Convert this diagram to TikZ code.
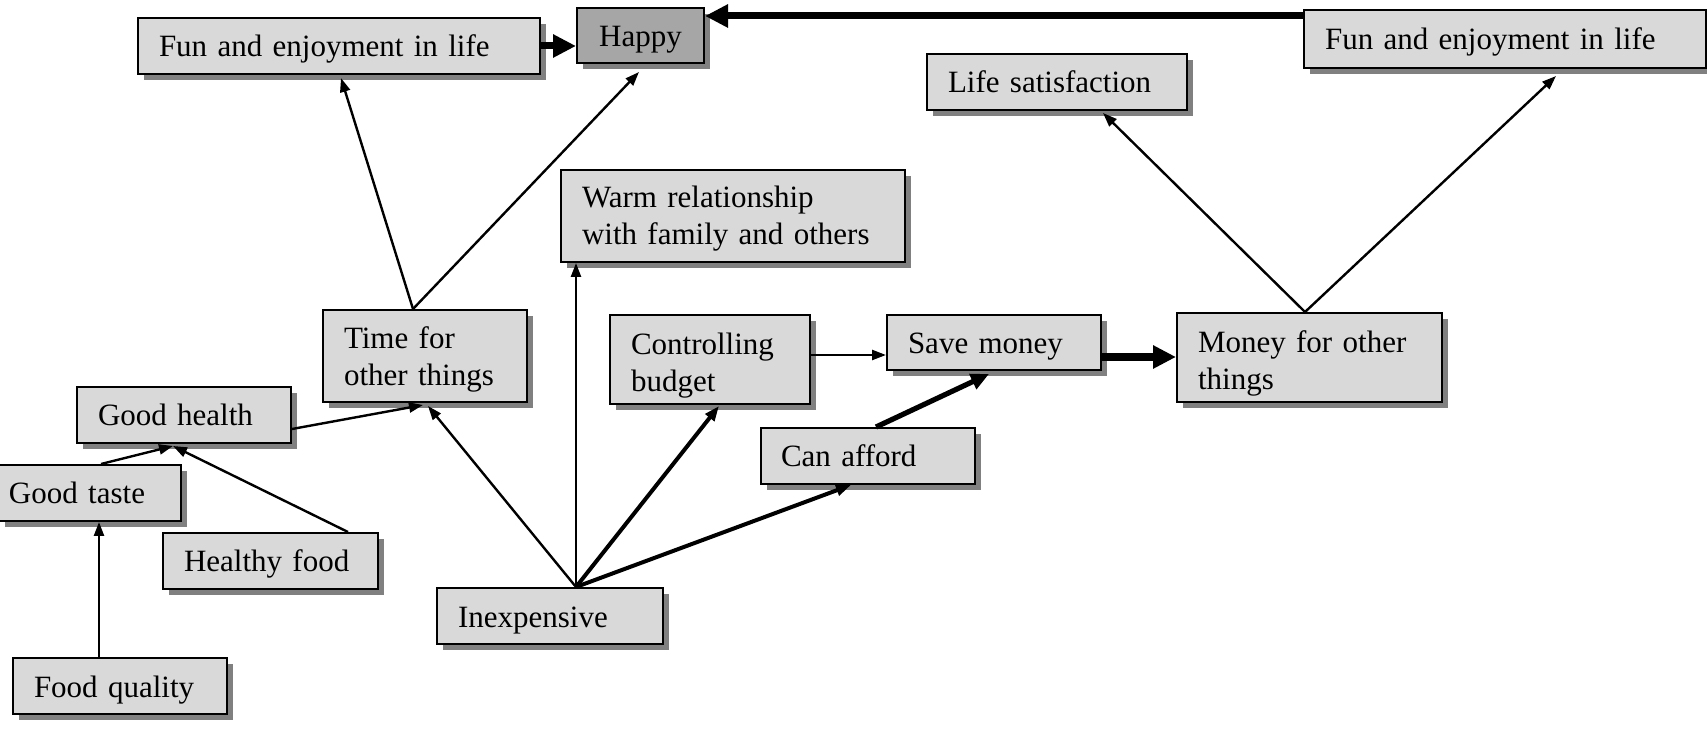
\documentclass[tikz,border=0pt]{standalone}
\usepackage{fontspec}
\setmainfont{Liberation Serif}
\usetikzlibrary{shadows,arrows.meta,calc}
\definecolor{boxfill}{HTML}{D9D9D9}
\definecolor{happyfill}{HTML}{A6A6A6}
\definecolor{shade}{HTML}{808080}

\tikzset{
  box/.style={draw=black, line width=1pt, fill=boxfill, rectangle,
    inner ysep=0pt, inner xsep=10.5pt, align=left, anchor=north west,
    font=\fontsize{15.5}{18.5}\selectfont,
    text height=14.5pt, text depth=3.5pt,
    drop shadow={shadow xshift=3pt, shadow yshift=-3pt, fill=shade, opacity=1}},
  twoline/.style={text height=14.5pt, text depth=22pt},
  thin link/.style={line width=1.2pt, -{Triangle[length=7pt,width=5pt]}},
  mid link/.style={line width=2pt, -{Triangle[length=7.5pt,width=5.5pt]}},
  bold link/.style={line width=2.6pt, -{Triangle[length=9pt,width=8pt]}},
  heavy link/.style={line width=3.5pt, -{Triangle[length=11.5pt,width=11pt]}},
}

\begin{document}
\begin{tikzpicture}[x=0.5pt,y=-0.5pt]
\useasboundingbox (0,0) rectangle (1707,731);

% top row
\node[box, minimum width=201pt, minimum height=28pt, text width=180pt] (fun1) at (137,17) {Fun and enjoyment in life};
\node[box, fill=happyfill, align=center, minimum width=63.5pt, minimum height=27.5pt, text height=15pt, text depth=3.5pt] (happy) at (576,7) {Happy};
\node[box, minimum width=201pt, minimum height=29pt, text width=180pt] (fun2) at (1303,9) {Fun and enjoyment in life};
\node[box, minimum width=130pt, minimum height=28pt, text width=109pt] (life) at (926,53) {Life satisfaction};

% middle
\node[box, twoline, minimum width=172pt, minimum height=46pt, text width=151pt, inner xsep=10pt, text height=13.5pt] (warm) at (560,169) {Warm relationship\\with family and others};
\node[box, twoline, minimum width=102pt, minimum height=46pt, text width=81pt] (time) at (322,309) {Time for\\other things};
\node[box, twoline, minimum width=100pt, minimum height=44.5pt, text width=79pt, text height=16pt, text depth=20.5pt] (ctrl) at (609,314) {Controlling\\budget};
\node[box, minimum width=107pt, minimum height=27.5pt, text width=86pt] (save) at (886,314) {Save money};
\node[box, twoline, minimum width=132.5pt, minimum height=44.5pt, text width=111.5pt, text height=16pt, text depth=20.5pt] (money) at (1176,312) {Money for other\\things};
\node[box, minimum width=107pt, minimum height=28pt, inner xsep=10pt, text width=87pt] (afford) at (760,427) {Can afford};

% lower left
\node[box, minimum width=107pt, minimum height=28pt, text width=86pt] (health) at (76,386) {Good health};
\node[box, minimum width=91pt, minimum height=28pt, inner xsep=5pt, text width=81pt] (taste) at (-2,464) {Good taste};
\node[box, minimum width=107.5pt, minimum height=28pt, text width=86.5pt] (healthy) at (162,532) {Healthy food};
\node[box, minimum width=113pt, minimum height=28pt, text width=92pt] (inexp) at (436,587) {Inexpensive};
\node[box, minimum width=107pt, minimum height=28pt, text width=86pt] (quality) at (12,657) {Food quality};

% connectors
\draw[heavy link] (fun1.east) -- (happy.west |- fun1.east);
\coordinate (topline) at ($(fun2.north west)+(0,7)$);
\draw[heavy link] (topline) -- (happy.east |- topline);

\coordinate (timetop) at ($(time.north)+(-12,0)$);
\draw[thin link] (timetop) -- ($(fun1.south)+(2,3)$);
\draw[thin link] (timetop) -- ($(happy.south)+(-1.5,8)$);

\draw[thin link] ($(health.south east)+(0,-15)$) -- ($(time.south)+(-2,2)$);
\coordinate (healthin) at ($(health.south)+(-11,2)$);
\draw[thin link] ($(taste.north)+(11,0)$) -- (healthin);
\draw[thin link] ($(healthy.north)+(77.5,0)$) -- (healthin);
\coordinate (qtop) at ($(quality.north)+(-21,0)$);
\draw[thin link] (qtop) -- (qtop |- taste.south);

\coordinate (apex) at ($(inexp.north)+(26,0)$);
\draw[thin link] (apex) -- ($(time.south)+(3,3)$);
\draw[thin link] (apex) -- (apex |- warm.south);
\draw[mid link] (apex) -- ($(ctrl.south)+(9,1)$);
\draw[mid link] (apex) -- ($(afford.south)+(-17,0)$);

\coordinate (ctrlout) at ($(ctrl.north east)+(0,41)$);
\draw[thin link] (ctrlout) -- (save.west |- ctrlout);
\draw[bold link] ($(afford.north)+(8,0)$) -- ($(save.south)+(-5,3)$);
\coordinate (saveout) at ($(save.north east)+(0,43)$);
\draw[heavy link, line width=4pt] (saveout) -- (money.west |- saveout);

\coordinate (mtop) at ($(money.north)+(-4.5,0)$);
\draw[thin link] (mtop) -- ($(life.south)+(46,2)$);
\draw[thin link] (mtop) -- ($(fun2.south)+(51,7)$);
\end{tikzpicture}
\end{document}
